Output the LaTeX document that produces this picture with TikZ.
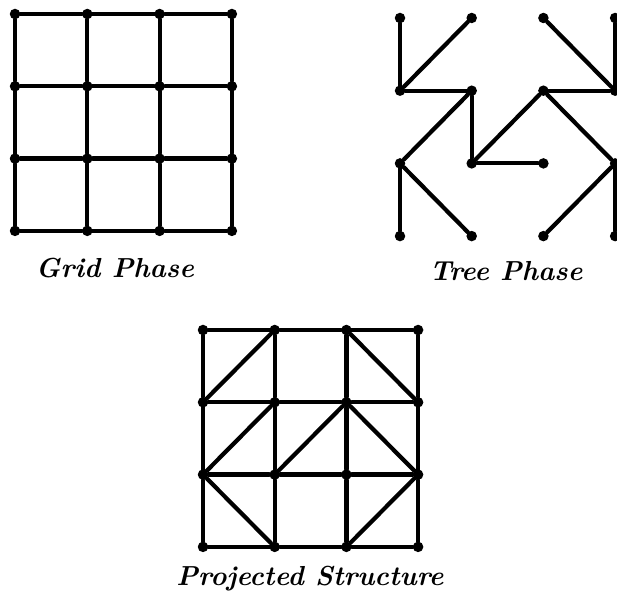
\documentclass[tikz,border=0pt]{standalone}
\usetikzlibrary{calc}

\tikzset{
  dot/.style={circle, fill=black, inner sep=0pt, minimum size=10.5pt},
  edge/.style={line width=4.2pt, line cap=round},
  caption/.style={font=\fontsize{27.5}{32}\selectfont\bfseries\itshape}
}

\begin{document}
\begin{tikzpicture}[x=1pt, y=1pt]

  \useasboundingbox (0,0) rectangle (617,601);

  % Grid Phase dots
  \foreach \i in {0,1,2,3}
    \foreach \j in {0,1,2,3}
      \node[dot] (g\i\j) at ({15+72.3*\i}, {601-14-72.3*\j}) {};

  % Tree Phase dots
  \foreach \i in {0,1,2,3}
    \foreach \j in {0,1,2,3}
      \node[dot] (t\i\j) at ({400+71.7*\i}, {601-18-72.7*\j}) {};

  % Projected Structure dots
  \foreach \i in {0,1,2,3}
    \foreach \j in {0,1,2,3}
      \node[dot] (p\i\j) at ({203+71.7*\i}, {601-330-72.3*\j}) {};

  % Grid edges (grid phase and projected structure)
  \foreach \a/\b in {0/1,1/2,2/3}
    \foreach \i in {0,1,2,3} {
      \draw[edge] (g\i\a) -- (g\i\b);
      \draw[edge] (g\a\i) -- (g\b\i);
      \draw[edge] (p\i\a) -- (p\i\b);
      \draw[edge] (p\a\i) -- (p\b\i);
    }

  % Tree edges
  \foreach \a/\b in {00/01,10/01,01/11,11/12,11/02,02/03,02/13,12/21,
                     12/22,20/31,30/31,21/31,21/32,32/33,32/23}
    \draw[edge] (t\a) -- (t\b);

  % Diagonals of the projected structure
  \foreach \a/\b in {10/01,20/31,11/02,12/21,21/32,02/13,32/23}
    \draw[edge] (p\a) -- (p\b);

  % Captions
  \node[caption] (gridcap) at (115, 601-268) {Grid Phase};
  \node[caption] (treecap) at (506, 601-271) {Tree Phase};
  \node[caption] (projcap) at (310, 601-579) {Projected Structure};

\end{tikzpicture}
\end{document}
